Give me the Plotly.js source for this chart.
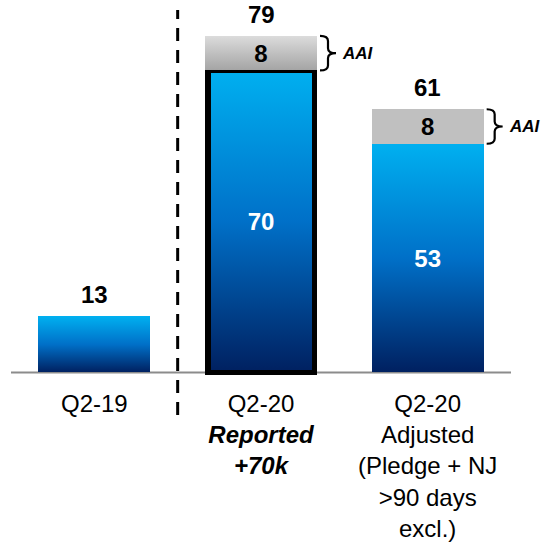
<!DOCTYPE html>
<html>
<head>
<meta charset="utf-8">
<script src="https://cdn.plot.ly/plotly-3.0.1.min.js"></script>
<style>
  html, body { margin: 0; padding: 0; background: #ffffff; }
  #chart { width: 543px; height: 543px; }
</style>
</head>
<body>
<div id="chart"></div>
<script>
// ---- data ----
const categories = ['Q2-19', 'Q2-20 Reported', 'Q2-20 Adjusted'];
const tickLabels = [
  'Q2-19',
  'Q2-20<br><b><i>Reported</i></b><br><b><i>+70k</i></b>',
  'Q2-20<br>Adjusted<br>(Pledge + NJ<br>>90 days<br>excl.)'
];
const coreValues = [13, 70, 53];
const aaiValues = [null, 8, 8];
const totals = [13, 79, 61];
const aaiLabel = 'AAI';
const highlighted = 'Q2-20 Reported';

// ---- geometry / style ----
const FONT = 'Liberation Sans, Arial, Helvetica, sans-serif';
const W = 543, H = 543;
const M = { l: 11, r: 32, t: 10, b: 168 };
const X_RANGE = [-0.5, categories.length - 0.5];
const Y_RANGE = [-0.6, 84];
const pxPerCat = (W - M.l - M.r) / (X_RANGE[1] - X_RANGE[0]);
const pxPerUnit = (H - M.t - M.b) / (Y_RANGE[1] - Y_RANGE[0]);
const BAR_W = 112 / pxPerCat;
const OUTLINE = 5.5;

const pos = categories.map((_, i) => i);
const hiIdx = categories.indexOf(highlighted);
const aaiIdx = pos.filter(i => aaiValues[i] != null);
const stackTop = pos.map(i => coreValues[i] + (aaiValues[i] || 0));

const coreTrace = {
  type: 'bar',
  x: pos,
  y: coreValues,
  width: pos.map(i => i === hiIdx ? BAR_W - OUTLINE / pxPerCat : BAR_W),
  marker: {
    color: '#0070C0',
    line: { color: '#000000', width: pos.map(i => i === hiIdx ? OUTLINE : 0) }
  },
  text: pos.map(i => aaiValues[i] == null ? '' : '<b>' + coreValues[i] + '</b>'),
  textposition: 'inside',
  insidetextanchor: 'middle',
  textangle: 0,
  insidetextfont: { family: FONT, size: 24, color: '#ffffff' },
  hoverinfo: 'skip'
};

const aaiTrace = {
  type: 'bar',
  x: aaiIdx,
  y: aaiIdx.map(i => aaiValues[i]),
  width: BAR_W,
  marker: { color: '#C0C0C0', line: { width: 0 } },
  text: aaiIdx.map(i => '<b>' + aaiValues[i] + '</b>'),
  textposition: 'inside',
  insidetextanchor: 'middle',
  textangle: 0,
  insidetextfont: { family: FONT, size: 24, color: '#000000' },
  hoverinfo: 'skip'
};

// total labels above each stack
const annotations = pos.map(i => ({
  x: i, y: stackTop[i], xref: 'x', yref: 'y',
  text: '<b>' + totals[i] + '</b>',
  showarrow: false, yanchor: 'bottom', yshift: 6,
  font: { family: FONT, size: 24, color: '#000000' }
}));

// "AAI" tags next to the braces
aaiIdx.forEach(i => {
  annotations.push({
    x: i, y: coreValues[i] + aaiValues[i] / 2, xref: 'x', yref: 'y',
    text: '<b><i>' + aaiLabel + '</i></b>',
    showarrow: false, xanchor: 'left', yanchor: 'middle', xshift: 79,
    font: { family: FONT, size: 17, color: '#000000' }
  });
});

// curly brace spanning an AAI segment (x in pixels from bar centre, y in data units)
function bracePath(yb, yt) {
  const ym = (yb + yt) / 2;
  const r = 5 / pxPerUnit;
  const a = 59, s = 67, tip = 75;
  return `M${a},${yt} Q${s},${yt} ${s},${yt - r} L${s},${ym + r} ` +
         `Q${s},${ym} ${tip},${ym} Q${s},${ym} ${s},${ym - r} ` +
         `L${s},${yb + r} Q${s},${yb} ${a},${yb}`;
}

const shapes = [
  // baseline
  { type: 'line', xref: 'paper', yref: 'y', x0: 0, x1: 1, y0: 0, y1: 0,
    line: { color: '#8c8c8c', width: 2 }, layer: 'below' },
  // separator between last year and this year
  { type: 'line', xref: 'x', yref: 'paper',
    x0: (pos[0] + pos[1]) / 2, x1: (pos[0] + pos[1]) / 2,
    y0: -40 / (H - M.t - M.b), y1: 1,
    line: { color: '#000000', width: 3, dash: '13px,9px' } }
];
aaiIdx.forEach(i => {
  shapes.push({
    type: 'path', xref: 'x', yref: 'y', xsizemode: 'pixel', xanchor: i,
    path: bracePath(coreValues[i], coreValues[i] + aaiValues[i]),
    line: { color: '#000000', width: 2.2 }
  });
});

const layout = {
  width: W, height: H,
  margin: M,
  paper_bgcolor: '#ffffff',
  plot_bgcolor: 'rgba(0,0,0,0)',
  barmode: 'stack',
  showlegend: false,
  font: { family: FONT, color: '#000000' },
  xaxis: {
    range: X_RANGE, tickvals: pos, ticktext: tickLabels,
    ticks: '', showline: false, showgrid: false, zeroline: false,
    tickfont: { family: FONT, size: 24, color: '#000000' },
    ticklabelstandoff: 12, automargin: false, fixedrange: true
  },
  yaxis: {
    range: Y_RANGE, visible: false, showgrid: false, zeroline: false,
    automargin: false, fixedrange: true
  },
  shapes: shapes,
  annotations: annotations
};

Plotly.newPlot('chart', [coreTrace, aaiTrace], layout, { staticPlot: true, displayModeBar: false })
  .then(gd => {
    // vertical gradient fills for the bars
    const NS = 'http://www.w3.org/2000/svg';
    const svg = gd.querySelector('.main-svg');
    let defs = svg.querySelector('defs');
    if (!defs) { defs = document.createElementNS(NS, 'defs'); svg.insertBefore(defs, svg.firstChild); }
    function addGradient(id, stops) {
      const g = document.createElementNS(NS, 'linearGradient');
      g.setAttribute('id', id);
      g.setAttribute('x1', '0'); g.setAttribute('y1', '0');
      g.setAttribute('x2', '0'); g.setAttribute('y2', '1');
      stops.forEach(([o, c]) => {
        const s = document.createElementNS(NS, 'stop');
        s.setAttribute('offset', o);
        s.setAttribute('stop-color', c);
        g.appendChild(s);
      });
      defs.appendChild(g);
    }
    addGradient('barBlue', [[0, '#00B0F0'], [0.5, '#0070C8'], [1, '#002060']]);
    addGradient('barGrey', [[0, '#DCDCDC'], [1, '#A4A4A4']]);

    const traces = gd.querySelectorAll('.barlayer .trace');
    traces[0].querySelectorAll('.point path').forEach(p => { p.style.fill = 'url(#barBlue)'; });
    const greyPts = traces[1].querySelectorAll('.point path');
    const k = aaiIdx.indexOf(hiIdx);
    if (k >= 0 && greyPts[k]) greyPts[k].style.fill = 'url(#barGrey)';
  });
</script>
</body>
</html>
